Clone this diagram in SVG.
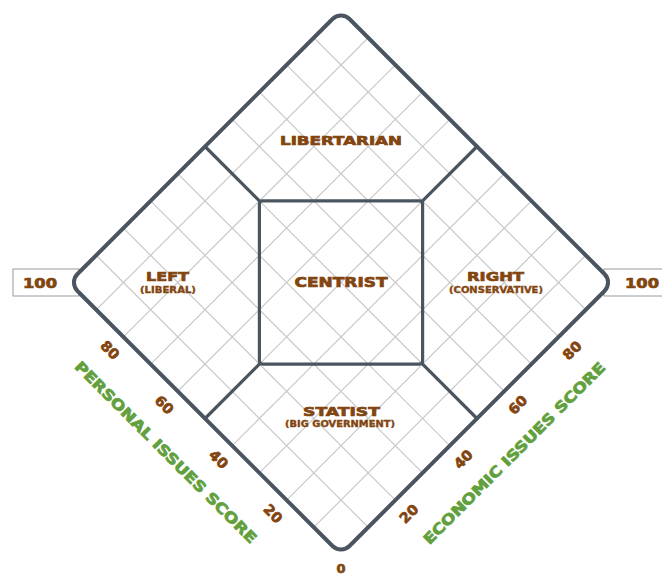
<svg xmlns="http://www.w3.org/2000/svg" width="662" height="574" viewBox="0 0 662 574">
<style>
.t{font-family:"DejaVu Sans","Liberation Sans",sans-serif;font-weight:bold;fill:#83450f;stroke:#83450f;stroke-width:0.7;text-anchor:middle}
.s{stroke-width:0.35}
.g{font-family:"DejaVu Sans","Liberation Sans",sans-serif;font-weight:bold;fill:#62a03e;stroke:#62a03e;stroke-width:0.8;text-anchor:middle}
.grid{stroke:#c9c9c9;stroke-width:1.2;fill:none}
.div{stroke:#4a555f;stroke-width:3.2;fill:none;stroke-linecap:round}
.box{fill:#fff;stroke:#9a9a9a;stroke-width:1}
</style>
<rect width="662" height="574" fill="#fff"/>
<g id="scale-left"><rect class="box" x="13" y="269" width="66" height="27"/><text class="t" x="40" y="287.5" font-size="13.5" textLength="34" lengthAdjust="spacingAndGlyphs">100</text></g>
<g id="scale-right"><rect class="box" x="604" y="269" width="64" height="27"/><text class="t" x="642" y="287.5" font-size="13.5" textLength="34" lengthAdjust="spacingAndGlyphs">100</text></g>
<g id="chart" transform="translate(341,282.5) rotate(45)">
<rect x="-192.33" y="-192.33" width="384.66" height="384.66" rx="12" fill="#fff"/>
<g class="grid">
<path d="M-153.86-192.33V192.33M-115.4-192.33V192.33M-76.93-192.33V192.33M-38.47-192.33V192.33M0-192.33V192.33M38.47-192.33V192.33M76.93-192.33V192.33M115.4-192.33V192.33M153.86-192.33V192.33"/>
<path d="M-192.33-153.86H192.33M-192.33-115.4H192.33M-192.33-76.93H192.33M-192.33-38.47H192.33M-192.33 0H192.33M-192.33 38.47H192.33M-192.33 76.93H192.33M-192.33 115.4H192.33M-192.33 153.86H192.33"/>
</g>
</g>
<g id="connectors" class="div" transform="translate(341,282.5) rotate(45)">
<path d="M-192.33 0H-115.4M115.4 0H192.33M0-192.33V-115.4M0 115.4V192.33"/>
</g>
<g id="centrist"><rect class="div" x="259.4" y="200.9" width="163.2" height="163.2" rx="3"/><text class="t" x="341" y="287" font-size="13.5" textLength="93" lengthAdjust="spacingAndGlyphs">CENTRIST</text></g>
<g id="outline"><rect transform="translate(341,282.5) rotate(45)" x="-192.33" y="-192.33" width="384.66" height="384.66" rx="12" fill="none" stroke="#4a555f" stroke-width="4"/></g>
<g id="libertarian"><text class="t" x="341" y="145" font-size="13" textLength="122" lengthAdjust="spacingAndGlyphs">LIBERTARIAN</text></g>
<g id="left"><text class="t" x="167.5" y="281" font-size="13" textLength="43" lengthAdjust="spacingAndGlyphs">LEFT</text><text class="t s" x="168" y="293" font-size="8.5" textLength="56" lengthAdjust="spacingAndGlyphs">(LIBERAL)</text></g>
<g id="right"><text class="t" x="495.5" y="281" font-size="13" textLength="57" lengthAdjust="spacingAndGlyphs">RIGHT</text><text class="t s" x="496" y="293" font-size="8.5" textLength="94" lengthAdjust="spacingAndGlyphs">(CONSERVATIVE)</text></g>
<g id="statist"><text class="t" x="341.5" y="416" font-size="13" textLength="77" lengthAdjust="spacingAndGlyphs">STATIST</text><text class="t s" x="340" y="427" font-size="8.5" textLength="110" lengthAdjust="spacingAndGlyphs">(BIG GOVERNMENT)</text></g>
<g id="ticks-left" class="t" font-size="14">
<text transform="translate(110,350) rotate(45)" y="5" textLength="20" lengthAdjust="spacingAndGlyphs">80</text>
<text transform="translate(164.3,404.8) rotate(45)" y="5" textLength="20" lengthAdjust="spacingAndGlyphs">60</text>
<text transform="translate(218.7,459.2) rotate(45)" y="5" textLength="20" lengthAdjust="spacingAndGlyphs">40</text>
<text transform="translate(273.1,513.6) rotate(45)" y="5" textLength="20" lengthAdjust="spacingAndGlyphs">20</text>
</g>
<g id="tick-zero" class="t" font-size="13"><text x="341" y="572.5">0</text></g>
<g id="ticks-right" class="t" font-size="14">
<text transform="translate(408.9,513.6) rotate(-45)" y="5" textLength="20" lengthAdjust="spacingAndGlyphs">20</text>
<text transform="translate(463.3,459.2) rotate(-45)" y="5" textLength="20" lengthAdjust="spacingAndGlyphs">40</text>
<text transform="translate(517.7,404.8) rotate(-45)" y="5" textLength="20" lengthAdjust="spacingAndGlyphs">60</text>
<text transform="translate(572.1,350.4) rotate(-45)" y="5" textLength="20" lengthAdjust="spacingAndGlyphs">80</text>
</g>
<g id="personal-axis"><text class="g" transform="translate(166,452) rotate(45)" y="5.5" font-size="14.5" textLength="250" lengthAdjust="spacingAndGlyphs">PERSONAL ISSUES SCORE</text></g>
<g id="economic-axis"><text class="g" transform="translate(514,453) rotate(-45)" y="5.5" font-size="14.5" textLength="250" lengthAdjust="spacingAndGlyphs">ECONOMIC ISSUES SCORE</text></g>
</svg>
